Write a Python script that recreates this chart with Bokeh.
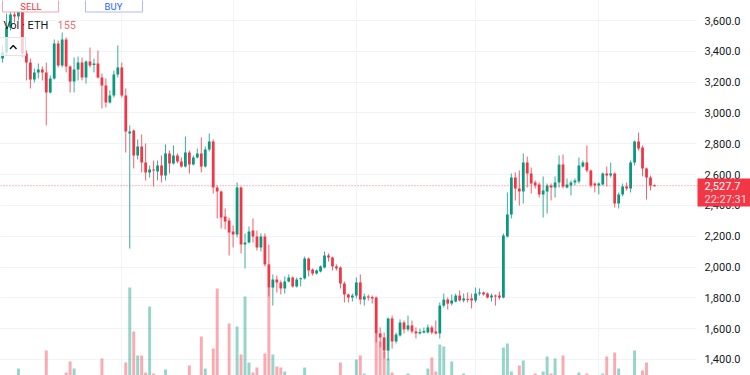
import pandas as pd
from bokeh.plotting import figure
from bokeh.models import ColumnDataSource, Range1d, FixedTicker, NumeralTickFormatter, Span, Label
from bokeh.core.properties import value
from bokeh.embed import file_html
from bokeh.resources import INLINE

# ---------------- data (ETH/USD daily) ----------------
start_date = "2025-01-02"
opens = [3353, 3392, 3555, 3639, 3626, 3671, 3386, 3327, 3217, 3263,
         3282, 3263, 3133, 3224, 3451, 3308, 3477, 3301, 3204, 3282,
         3327, 3230, 3334, 3311, 3321, 3230, 3178, 3068, 3113, 3250,
         3295, 3113, 2867, 2886, 2724, 2782, 2678, 2614, 2633, 2620,
         2659, 2594, 2737, 2672, 2724, 2685, 2652, 2743, 2665, 2711,
         2737, 2652, 2763, 2815, 2516, 2490, 2328, 2302, 2231, 2211,
         2516, 2146, 2159, 2237, 2198, 2127, 2198, 2017, 1867, 1919,
         1900, 1861, 1906, 1932, 1874, 1922, 1926, 2055, 1984, 1958,
         1971, 1997, 2075, 2062, 2004, 1997, 1893, 1822, 1802, 1815,
         1900, 1789, 1809, 1805, 1802, 1569, 1543, 1458, 1666, 1517,
         1556, 1640, 1595, 1621, 1582, 1569, 1575, 1575, 1608, 1582,
         1569, 1750, 1789, 1763, 1776, 1815, 1783, 1793, 1796, 1783,
         1828, 1835, 1828, 1802, 1815, 1815, 1802, 2198, 2341, 2581,
         2510, 2490, 2678, 2607, 2549, 2536, 2471, 2490, 2529, 2516,
         2549, 2665, 2516, 2529, 2549, 2555, 2652, 2678, 2627, 2542,
         2529, 2536, 2607, 2594, 2607, 2412, 2471, 2523, 2510, 2678,
         2815, 2776, 2639, 2581, 2531]
highs = [3438, 3645, 3678, 3671, 3710, 3717, 3405, 3353, 3288, 3321,
         3301, 3327, 3243, 3477, 3470, 3522, 3490, 3308, 3360, 3366,
         3360, 3340, 3425, 3353, 3405, 3256, 3224, 3146, 3275, 3438,
         3327, 3159, 2919, 2893, 2828, 2860, 2802, 2659, 2691, 2691,
         2724, 2795, 2756, 2789, 2737, 2711, 2847, 2756, 2724, 2769,
         2841, 2782, 2867, 2828, 2529, 2497, 2380, 2321, 2270, 2549,
         2523, 2218, 2263, 2315, 2237, 2218, 2218, 2146, 1952, 1945,
         1913, 1939, 1952, 1939, 1932, 1932, 2068, 2062, 1991, 1984,
         2010, 2101, 2088, 2068, 2017, 2004, 1906, 1828, 1828, 1932,
         1952, 1828, 1822, 1815, 1809, 1608, 1575, 1672, 1685, 1575,
         1660, 1653, 1685, 1653, 1608, 1601, 1608, 1627, 1621, 1653,
         1770, 1828, 1802, 1822, 1828, 1848, 1828, 1835, 1828, 1867,
         1861, 1841, 1835, 1828, 1822, 1841, 2218, 2484, 2607, 2614,
         2627, 2737, 2717, 2646, 2562, 2549, 2588, 2542, 2542, 2588,
         2724, 2730, 2575, 2562, 2575, 2711, 2691, 2789, 2633, 2549,
         2549, 2614, 2652, 2678, 2614, 2484, 2542, 2549, 2691, 2821,
         2873, 2789, 2646, 2594, 2536]
lows = [3327, 3373, 3535, 3587, 3600, 3366, 3211, 3159, 3198, 3224,
        3211, 2919, 3126, 3217, 3295, 3295, 3263, 3133, 3133, 3211,
        3211, 3191, 3295, 3263, 3224, 3029, 3035, 3061, 3100, 3230,
        3100, 2743, 2120, 2640, 2698, 2614, 2562, 2581, 2523, 2562,
        2549, 2562, 2607, 2665, 2672, 2646, 2646, 2607, 2659, 2704,
        2614, 2646, 2750, 2477, 2315, 2250, 2244, 2075, 2127, 2192,
        2088, 1991, 2153, 2159, 2107, 2101, 2004, 1809, 1750, 1835,
        1822, 1828, 1900, 1867, 1867, 1874, 1919, 1939, 1945, 1952,
        1965, 1991, 2036, 1978, 1978, 1861, 1770, 1770, 1776, 1796,
        1757, 1750, 1783, 1763, 1510, 1478, 1406, 1393, 1471, 1504,
        1549, 1569, 1582, 1569, 1536, 1562, 1569, 1569, 1562, 1562,
        1536, 1737, 1724, 1750, 1770, 1776, 1770, 1770, 1731, 1770,
        1815, 1815, 1796, 1776, 1750, 1789, 1796, 2192, 2315, 2432,
        2399, 2412, 2516, 2477, 2510, 2451, 2321, 2347, 2432, 2451,
        2516, 2510, 2510, 2464, 2529, 2542, 2646, 2614, 2516, 2484,
        2471, 2529, 2523, 2581, 2386, 2380, 2458, 2497, 2484, 2659,
        2756, 2588, 2438, 2497, 2524]
closes = [3392, 3555, 3639, 3626, 3671, 3386, 3327, 3217, 3263, 3282,
          3263, 3133, 3224, 3451, 3308, 3477, 3301, 3204, 3282, 3327,
          3230, 3334, 3308, 3321, 3230, 3178, 3068, 3113, 3250, 3295,
          3113, 2880, 2880, 2724, 2782, 2678, 2614, 2633, 2627, 2659,
          2594, 2737, 2672, 2724, 2685, 2652, 2743, 2665, 2711, 2737,
          2652, 2763, 2815, 2516, 2490, 2321, 2296, 2224, 2211, 2516,
          2146, 2159, 2231, 2198, 2127, 2198, 2017, 1867, 1919, 1900,
          1861, 1906, 1932, 1874, 1919, 1927, 2055, 1978, 1958, 1978,
          2004, 2075, 2062, 2004, 1991, 1893, 1822, 1802, 1815, 1900,
          1789, 1809, 1802, 1796, 1569, 1543, 1458, 1666, 1517, 1562,
          1640, 1595, 1621, 1582, 1569, 1579, 1585, 1608, 1575, 1569,
          1750, 1789, 1763, 1783, 1815, 1783, 1796, 1789, 1783, 1828,
          1835, 1822, 1802, 1815, 1812, 1802, 2205, 2341, 2581, 2510,
          2490, 2678, 2607, 2542, 2529, 2471, 2497, 2529, 2516, 2549,
          2665, 2523, 2536, 2549, 2562, 2659, 2678, 2627, 2529, 2529,
          2542, 2607, 2594, 2607, 2412, 2471, 2523, 2510, 2678, 2815,
          2769, 2639, 2581, 2529, 2527.7]
# daily volume, thousand ETH
volume_k = [15, 18, 12, 20, 32, 22, 14, 20, 12, 10,
            14, 50, 16, 22, 18, 20, 28, 39, 32, 14,
            16, 15, 18, 10, 20, 42, 22, 14, 18, 20,
            24, 38, 113, 69, 45, 45, 28, 94, 27, 15,
            16, 31, 14, 12, 14, 16, 20, 35, 14, 12,
            64, 32, 22, 52, 112, 24, 20, 77, 22, 74,
            46, 104, 38, 28, 33, 24, 47, 113, 46, 34,
            33, 29, 16, 18, 14, 10, 33, 24, 14, 12,
            14, 22, 16, 20, 14, 38, 24, 16, 22, 41,
            45, 27, 12, 16, 67, 59, 49, 42, 28, 20,
            18, 16, 27, 14, 18, 12, 10, 32, 43, 29,
            56, 54, 22, 39, 20, 18, 27, 14, 20, 22,
            12, 10, 14, 16, 14, 18, 53, 57, 29, 24,
            35, 40, 22, 20, 27, 22, 29, 44, 27, 42,
            24, 45, 14, 18, 16, 28, 14, 27, 22, 16,
            14, 27, 44, 20, 48, 32, 20, 14, 24, 50,
            24, 30, 38, 22, 0.155]
price_ticks = [1400, 1600, 1800, 2000, 2200, 2400, 2600, 2800, 3000, 3200, 3400, 3600]
last_price = 2527.7
last_price_text = "2,527.7"
countdown_text = "22:27:31"
legend_name = "Vol · ETH"
legend_value = "155"
button_texts = ["SELL", "BUY"]

# ---------------- styling ----------------
UP, DOWN = "#089981", "#f23645"
FONT = "Roboto"

n = len(closes)
idx = list(range(n))
dates = pd.date_range(start_date, periods=n, freq="D")
month_starts = [i for i, d in enumerate(dates) if d.day == 1]

up = [c >= o for o, c in zip(opens, closes)]
colors = [UP if u else DOWN for u in up]
min_body = 6.5
body_top = [max(o, c) for o, c in zip(opens, closes)]
body_bot = [min(o, c) if max(o, c) - min(o, c) >= min_body else max(o, c) - min_body
            for o, c in zip(opens, closes)]

src = ColumnDataSource(dict(x=idx, o=opens, h=highs, l=lows, c=closes, vol=volume_k,
                            top=body_top, bot=body_bot, color=colors))

# screen mapping helpers (canvas pixel -> data)
PX0, PXS = 2.05, 3.975
def xd(px):
    return (px - PX0) / PXS
def yd(py):
    return 3729.8 - 6.49 * py

FRAME_W = 748
p = figure(frame_width=FRAME_W, frame_height=375,
           x_range=Range1d(xd(0), xd(FRAME_W)), y_range=Range1d(yd(375), yd(0)),
           x_axis_location=None, y_axis_location="right",
           toolbar_location=None, output_backend="svg",
           min_border=0, min_border_right=2,
           outline_line_color=None, background_fill_color="white", border_fill_color="white")
p.extra_y_ranges = {"vol": Range1d(25, 400)}

# grids
p.ygrid.grid_line_color = "#f0f3fa"
p.xgrid.grid_line_color = "#f0f3fa"
p.xgrid.ticker = FixedTicker(ticks=month_starts)

# price axis (labels drawn over the price-scale strip at the right of the chart)
ax = p.yaxis[0]
ax.ticker = FixedTicker(ticks=price_ticks)
ax.formatter = NumeralTickFormatter(format="0,0.0")
ax.major_label_text_font = FONT
ax.major_label_text_font_size = "11px"
ax.major_label_text_color = "#131722"
ax.axis_line_color = None
ax.major_tick_line_color = None
ax.minor_tick_line_color = None
ax.major_tick_out = 0
ax.major_tick_in = 0
ax.major_label_standoff = -44

# price-scale strip background (hides grid lines there)
p.quad(left=xd(696), right=xd(FRAME_W + 5), top=yd(-5), bottom=yd(380),
       fill_color="white", line_color=None)

# volume
p.vbar(x="x", top="vol", bottom=0, width=0.75, source=src, y_range_name="vol",
       fill_color="color", fill_alpha=0.42, line_color=None)
# wicks and bodies
p.segment(x0="x", y0="h", x1="x", y1="l", source=src, line_color="color", line_width=1, line_alpha=0.8)
p.vbar(x="x", top="top", bottom="bot", width=0.7, source=src, fill_color="color", line_color=None)

# last price line
p.add_layout(Span(location=last_price, dimension="width", line_color=DOWN,
                  line_dash="1 2", line_width=1, line_alpha=0.7))

# trading buttons (top edge)
p.quad(left=[xd(2), xd(85)], right=[xd(58), xd(142)], top=[yd(-12), yd(-12)],
       bottom=[yd(11.5), yd(11.5)], fill_color="white",
       line_color=["#f7a4aa", "#a9bcf7"], line_width=1)
p.text(x=[xd(30.5), xd(113)], y=[yd(6.2), yd(6.2)], text=button_texts,
       text_color=[DOWN, "#2962ff"], text_font=value(FONT), text_font_size="9.5px",
       text_align="center", text_baseline="middle")

# collapse button
p.quad(left=xd(-1), right=xd(25), top=yd(37), bottom=yd(55), fill_color="white",
       fill_alpha=0.75, line_color="#e0e3eb", line_width=1)
p.line(x=[xd(9.5), xd(12.7), xd(16)], y=[yd(48.5), yd(45), yd(48.5)],
       line_color="#131722", line_width=1.5)

# volume legend
p.add_layout(Label(x=xd(3), y=yd(24.5), text=legend_name, text_font=FONT,
                   text_font_size="11px", text_color="#131722", text_baseline="middle"))
p.add_layout(Label(x=xd(57), y=yd(24.5), text=legend_value, text_font=FONT,
                   text_font_size="11px", text_color=DOWN, text_alpha=0.75, text_baseline="middle"))

# last price badge on the price scale (drawn above the axis labels)
p.quad(left=xd(697), right=xd(FRAME_W + 5), top=yd(178), bottom=yd(206),
       fill_color=DOWN, line_color=None, level="overlay")
p.text(x=[xd(704), xd(704)], y=[last_price, yd(198.5)],
       text=[last_price_text, countdown_text], text_color="white",
       text_alpha=[1.0, 0.85], text_font=value(FONT), text_font_size="11px",
       text_align="left", text_baseline="middle", level="overlay")

open("out.html", "w").write(file_html(p, INLINE))
